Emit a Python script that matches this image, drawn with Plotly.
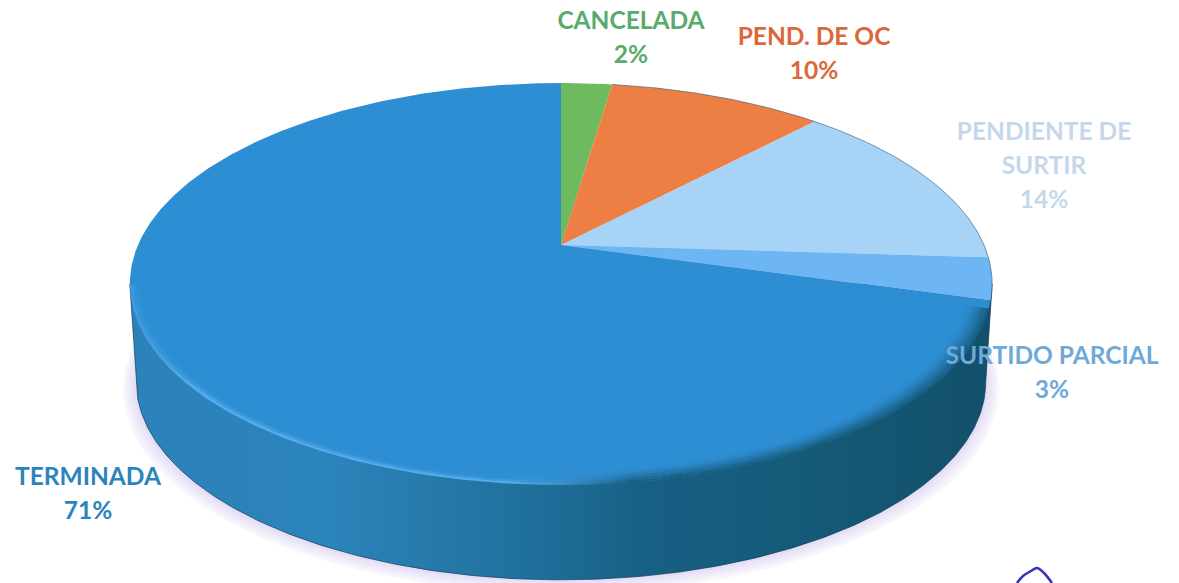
import numpy as np
import plotly.graph_objects as go

# ---- data (clockwise from 12 o'clock); labels show the rounded share ----
categories = ["CANCELADA", "PEND. DE OC", "PENDIENTE DE<br>SURTIR", "SURTIDO PARCIAL", "TERMINADA"]
values = [2.3, 9.7, 14.0, 3.4, 70.6]
slice_colors = ["#6dbb5e", "#ee7f44", "#a7d3f6", "#6db6f3", "#2e8ed4"]
text_colors = ["#58ab6c", "#dc683a", "#c6d7ea", "#6fa9d8", "#2c84bd"]

# ---- layout of the drawing ----
W, H = 1179, 583
APEX_X, APEX_Y = 561, 245
A, B, K = 423, 193.4, 0.194     # perspective disc
DEPTH, SHRINK = 98.5, 0.985     # extrusion of the wall
LABEL_ANCHORS = [(631, 22.5), (814, 38.5), (1044, 134), (1052, 357.5), (88, 478.5)]
LINE_STEP = 34
FONT = "Lato"
FONT_SIZE = 24.5
PEN_X = [1017, 1023, 1031, 1037, 1044, 1052]   # pen stroke at the page foot
PEN_Y = [583, 576, 571, 568, 573, 583]


def disc(frac, scale=1.0, dy=0.0):
    """Project a fraction of the turn (clockwise from top) on to the tilted disc."""
    th = 2 * np.pi * np.asarray(frac, dtype=float)
    u, v = np.sin(th), np.cos(th)
    d = 1 + K * v
    return APEX_X + scale * A * u / d, APEX_Y - scale * B * v / d + dy


total = sum(values)
edges = np.cumsum([0] + values) / total

fig = go.Figure()

# frac where the disc is widest (silhouette of the wall)
wide = np.arccos(-K) / (2 * np.pi)
front = np.linspace(wide, 1 - wide, 240)

# soft shadow under the wall
ring = np.linspace(0, 1, 361)
for grow in (0.03, 0.022, 0.014, 0.007):
    sx, sy = disc(ring, SHRINK + grow, DEPTH + 190 * grow)
    fig.add_trace(go.Scatter(x=sx, y=sy, mode="lines", line=dict(width=0), fill="toself",
                             fillcolor="rgba(205,195,235,0.16)", hoverinfo="skip"))

# wall, darkening towards the right
bx, by = disc(front, SHRINK, DEPTH)
tx, ty = disc(front[[-1, 0]])
fig.add_trace(go.Scatter(
    x=np.r_[tx[0], bx[::-1], tx[1], tx[0]], y=np.r_[ty[0], by[::-1], ty[1], ty[0]],
    mode="lines", line=dict(width=1, color="rgba(18,60,85,0.7)"), fill="toself",
    fillgradient=dict(type="horizontal", start=130, stop=993, colorscale=[
        [0, "#2c82ba"], [0.23, "#2b84bb"], [0.37, "#2578a8"], [0.49, "#1e6d98"],
        [0.6, "#175f84"], [0.78, "#155a78"], [1, "#12506a"]]),
    hoverinfo="skip"))

# slices on the top face
for i, (name, col) in enumerate(zip(categories, slice_colors)):
    n = max(8, int(values[i] * 6))
    x, y = disc(np.linspace(edges[i], edges[i + 1], n))
    fig.add_trace(go.Scatter(x=np.r_[APEX_X, x, APEX_X], y=np.r_[APEX_Y, y, APEX_Y],
                             mode="lines", line=dict(width=0), fill="toself", fillcolor=col,
                             name=name.replace("<br>", " "), hoverinfo="skip"))

# rim of the top face: a bright bevel on the left, blurring into the dark wall on the right
rim = np.linspace(0.30, 1 - wide, 240)
bands = [(1.0, 0.992, 0.80, 0.95), (0.992, 0.984, 0.35, 0.78), (0.984, 0.976, 0.06, 0.58),
         (0.976, 0.968, 0.0, 0.40), (0.968, 0.96, 0.0, 0.25), (0.96, 0.952, 0.0, 0.13),
         (0.952, 0.944, 0.0, 0.05)]
for s0, s1, a_bright, a_dark in bands:
    x0, y0 = disc(rim, s0)
    x1, y1 = disc(rim[::-1], s1)
    fig.add_trace(go.Scatter(
        x=np.r_[x0, x1], y=np.r_[y0, y1], mode="lines", line=dict(width=0), fill="toself",
        fillgradient=dict(type="horizontal", start=130, stop=993, colorscale=[
            [0, f"rgba(95,180,240,{a_bright * 0.3:.3f})"],
            [0.08, f"rgba(95,180,240,{a_bright:.3f})"],
            [0.44, f"rgba(95,180,240,{a_bright:.3f})"],
            [0.58, f"rgba(23,92,125,{a_dark:.3f})"],
            [1, f"rgba(23,92,125,{a_dark:.3f})"]]),
        hoverinfo="skip"))

# thin dark edge on the upper right
ex, ey = disc(np.linspace(edges[1], 0.33, 120))
fig.add_trace(go.Scatter(x=ex, y=ey, mode="lines", line=dict(width=1, color="rgba(35,80,110,0.55)"), hoverinfo="skip"))

# labels: one text mark per line so the line spacing is controlled
lx, ly, lt, lc = [], [], [], []
for name, val, col, (ax, ay) in zip(categories, values, text_colors, LABEL_ANCHORS):
    lines = name.split("<br>") + [f"{round(val)}%"]
    for j, line in enumerate(lines):
        lx.append(ax)
        ly.append(ay + j * LINE_STEP)
        lt.append(f"<b>{line}</b>")
        lc.append(col)
fig.add_trace(go.Scatter(x=lx, y=ly, mode="text", text=lt, textposition="middle center",
                         textfont=dict(family=FONT, size=FONT_SIZE, color=lc), hoverinfo="skip"))

# pen stroke
fig.add_trace(go.Scatter(x=PEN_X, y=PEN_Y, mode="lines", line=dict(width=2.5, color="#3434b8", shape="spline"),
                         hoverinfo="skip"))

fig.update_layout(
    width=W, height=H, autosize=False, showlegend=False,
    margin=dict(l=0, r=0, t=0, b=0), paper_bgcolor="white", plot_bgcolor="white",
    xaxis=dict(range=[0, W], visible=False, fixedrange=True),
    yaxis=dict(range=[H, 0], visible=False, fixedrange=True),
)
fig.write_html("out.html", config=dict(displayModeBar=False),
               post_script="document.body.style.margin='0';")
